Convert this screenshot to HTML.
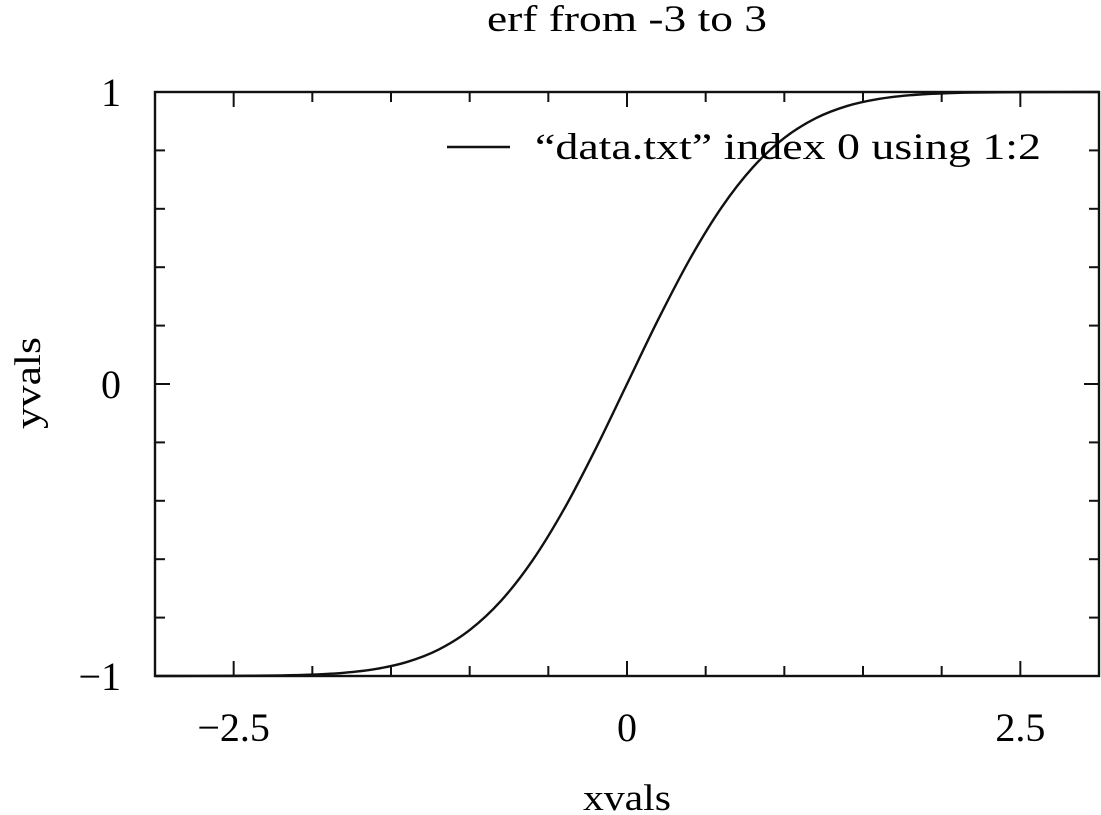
<!DOCTYPE html>
<html><head><meta charset="utf-8"><style>
html,body{margin:0;padding:0;background:#fff;}
svg{display:block;font-family:"Liberation Serif",serif;}
</style></head><body>
<svg id="chart" width="1101" height="815">
<text x="487" y="31" font-size="37" textLength="280" lengthAdjust="spacingAndGlyphs">erf from -3 to 3</text>
<text x="583" y="810" font-size="37" textLength="88" lengthAdjust="spacingAndGlyphs">xvals</text>
<text transform="translate(40,429) rotate(-90)" font-size="37" textLength="92" lengthAdjust="spacingAndGlyphs">yvals</text>
<g id="ticks"></g>
<path id="curve" fill="none" stroke="#111" stroke-width="2.4"></path>
<rect x="155" y="92" width="944" height="584" fill="none" stroke="#111" stroke-width="2.4"/>
<g>
<line x1="447" y1="147" x2="510" y2="147" stroke="#111" stroke-width="2.4"/>
<text x="535" y="159" font-size="37" textLength="506" lengthAdjust="spacingAndGlyphs">“data.txt” index 0 using 1:2</text>
</g>
</svg>
<script>
const xTickValues=[-2.5,0,2.5];
const xTickLabels=["\u22122.5","0","2.5"];
const yTickValues=[-1,0,1];
const yTickLabels=["\u22121","0","1"];
const xData=[-3,-2.5,-2.2,-2,-1.8,-1.6,-1.4,-1.2,-1,-0.8,-0.6,-0.4,-0.2,0,0.2,0.4,0.6,0.8,1,1.2,1.4,1.6,1.8,2,2.2,2.5,3];
const yData=[-1,-0.9996,-0.9981,-0.9953,-0.9891,-0.9763,-0.9523,-0.9103,-0.8427,-0.7421,-0.6039,-0.4284,-0.2227,0,0.2227,0.4284,0.6039,0.7421,0.8427,0.9103,0.9523,0.9763,0.9891,0.9953,0.9981,0.9996,1];
const X0=155,X1=1099,Y0=676,Y1=92;
const sx=v=>X0+(v+3)/6*(X1-X0);
const sy=v=>Y0-(v+1)/2*(Y0-Y1);
const NS="http://www.w3.org/2000/svg";
const g=document.getElementById('ticks');
function line(x1,y1,x2,y2,name){const l=document.createElementNS(NS,'line');
l.setAttribute('x1',x1);l.setAttribute('y1',y1);l.setAttribute('x2',x2);l.setAttribute('y2',y2);
l.setAttribute('stroke','#111');l.setAttribute('stroke-width','2');


g.appendChild(l);}
function text(x,y,s,anchor,name){const t=document.createElementNS(NS,'text');
t.setAttribute('x',x);t.setAttribute('y',y);t.setAttribute('font-size','40');t.setAttribute('text-anchor',anchor);t.textContent=s;


g.appendChild(t);}
for(let i=-6;i<=5;i++){const v=i*0.5;if(v<=-3||v>=3)continue;const x=sx(v);const major=Math.abs(v%2.5)<1e-9;const L=major?15:10;
line(x,Y0,x,Y0-L,'x-tick');line(x,Y1,x,Y1+L,'x-tick');}
for(let i=-5;i<=5;i++){const v=i*0.2;if(v<=-1.001||v>=1.001)continue;const y=sy(v);const major=Math.abs(Math.round(v)-v)<1e-9;const L=major?15:10;
line(X0,y,X0+L,y,'y-tick');line(X1,y,X1-L,y,'y-tick');}
xTickValues.forEach((v,i)=>text(sx(v),741,xTickLabels[i],'middle','x-tick-label'));
yTickValues.forEach((v,i)=>text(X0-34,sy(v)+14,yTickLabels[i],'end','y-tick-label'));
const pts=xData.map((x,i)=>[sx(x),sy(yData[i])]);
let d='M'+pts[0][0]+','+pts[0][1];
for(let i=0;i<pts.length-1;i++){const p0=pts[i-1]||pts[i],p1=pts[i],p2=pts[i+1],p3=pts[i+2]||p2;
d+=' C'+(p1[0]+(p2[0]-p0[0])/6)+','+(p1[1]+(p2[1]-p0[1])/6)+' '+(p2[0]-(p3[0]-p1[0])/6)+','+(p2[1]-(p3[1]-p1[1])/6)+' '+p2[0]+','+p2[1];}
document.getElementById('curve').setAttribute('d',d);
</script>
</body></html>
